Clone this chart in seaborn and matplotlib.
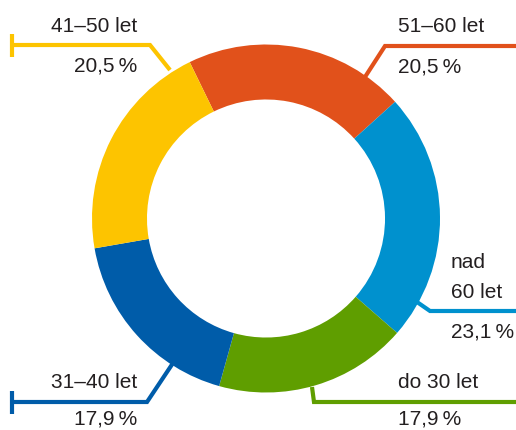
import matplotlib
matplotlib.use("Agg")
import matplotlib.pyplot as plt
import seaborn as sns

# data (clockwise from the top)
vekove_skupiny = ["51–60 let", "nad\n60 let", "do 30 let", "31–40 let", "41–50 let"]
podily = [20.5, 23.1, 17.9, 17.9, 20.5]
barvy = ["#E1511B", "#0091CE", "#5F9E00", "#005CA9", "#FDC400"]

sns.set_theme(style="white")
plt.rcParams["font.family"] = ["Liberation Sans", "DejaVu Sans"]

W, H = 516, 430
fig = plt.figure(figsize=(W / 100, H / 100), dpi=100)
ax = fig.add_axes([0, 0, 1, 1])


def py(y):
    # pixel y from top -> data y
    return H - y


cx, cy, r = 266, py(218.5), 174
ax.pie(podily, colors=barvy, startangle=116, counterclock=False,
       center=(cx, cy), radius=r, frame=True,
       wedgeprops=dict(width=r * 0.316, linewidth=0))
ax.set_xlim(0, W)
ax.set_ylim(0, H)
ax.set_aspect("equal")
ax.axis("off")

lw = 3.0
txt = dict(fontsize=15, color="#231f20", va="center")


def fmt(v):
    return f"{v:.1f}".replace(".", ",") + "\u2009%"


# leader lines (pixel layout)
leaders = {
    "51–60 let": [(365, 77), (385, 46), (W, 46)],
    "nad\n60 let": [(417, 302), (430, 311), (W, 311)],
    "do 30 let": [(312, 387), (314, 402), (W, 402)],
    "31–40 let": [(173, 363), (147, 402), (12, 402)],
    "41–50 let": [(170, 70), (150, 45), (12, 45)],
}

for lab, val, col in zip(vekove_skupiny, podily, barvy):
    pts = leaders[lab]
    ax.plot([p[0] for p in pts], [py(p[1]) for p in pts], color=col, lw=lw,
            solid_capstyle="butt", solid_joinstyle="miter")
    hy = pts[-1][1]
    # percentage below the line; bottom ones squeezed to stay inside
    dy = 21 if hy < 300 else 17
    if pts[-1][0] < 100:
        # left side: end tick + right aligned text
        ax.plot([12, 12], [py(hy - 11.5), py(hy + 11.5)], color=col, lw=lw,
                solid_capstyle="butt")
        ax.text(137, py(hy - 19), lab, ha="right", **txt)
        ax.text(137, py(hy + dy), fmt(val), ha="right", **txt)
    elif lab.startswith("nad"):
        ax.text(451, py(262), "nad", ha="left", **txt)
        ax.text(451, py(292), "60 let", ha="left", **txt)
        ax.text(451, py(332), fmt(val), ha="left", **txt)
    else:
        ax.text(398, py(hy - 19), lab, ha="left", **txt)
        ax.text(398, py(hy + dy), fmt(val), ha="left", **txt)

fig.savefig("out.png", dpi=100, facecolor="white")
